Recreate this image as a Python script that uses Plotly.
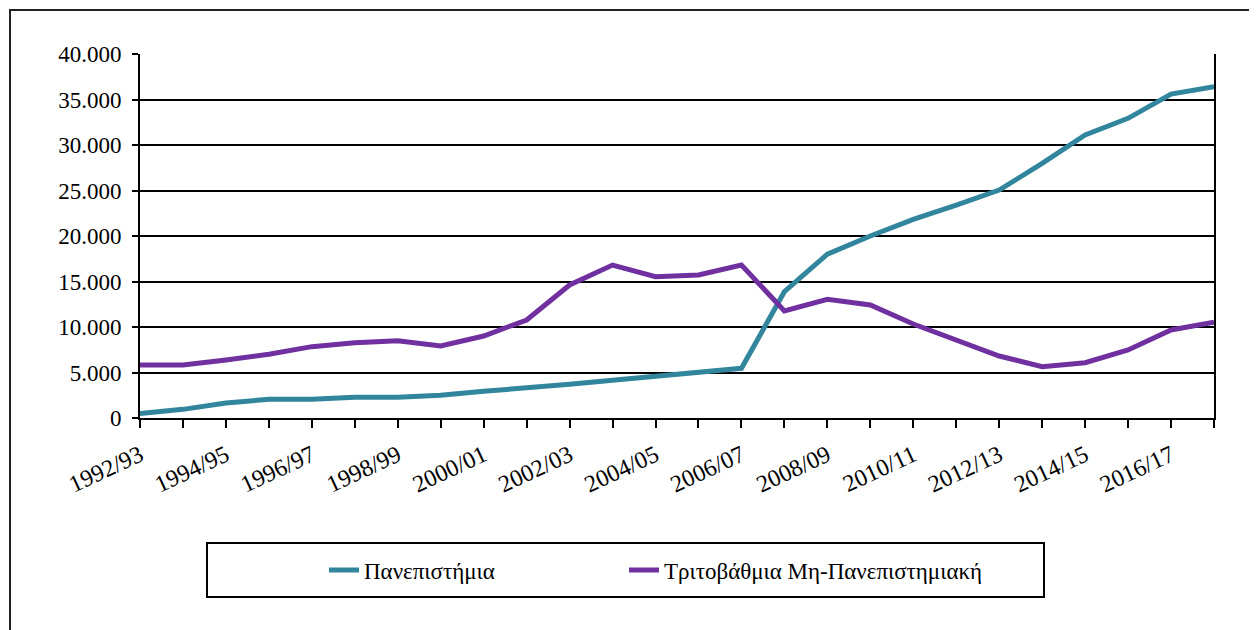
import plotly.graph_objects as go

years = [f"{y}/{str(y + 1)[2:]}" for y in range(1992, 2018)]

panepistimia = [500, 950, 1650, 2050, 2050, 2270, 2270, 2500, 2930, 3260,
                3700, 4140, 4600, 5090, 5460, 13880, 18000, 20000, 21830, 23400,
                25050, 27990, 31100, 32930, 35600, 36400]

mi_panepist = [5820, 5820, 6370, 7000, 7840, 8280, 8500, 7910, 9010, 10770,
               14620, 16810, 15530, 15710, 16810, 11760, 13040, 12420, 10330, 8570,
               6810, 5640, 6080, 7470, 9670, 10520]

name_a = "Πανεπιστήμια"
name_b = "Τριτοβάθμια Μη-Πανεπιστημιακή"

y_ticks = [0, 5000, 10000, 15000, 20000, 25000, 30000, 35000, 40000]
x_ticktext = [y if i % 2 == 0 else "" for i, y in enumerate(years)]

FONT = "Liberation Serif"
OFF = 8  # the page body keeps an 8px margin


def px_x(px):
    return (px - 140) / 1074


def px_y(py):
    return (418 - py) / 364


fig = go.Figure()
fig.add_trace(go.Scatter(x=years, y=panepistimia, mode="lines", name=name_a,
                         line=dict(color="#31859C", width=5), legend="legend"))
fig.add_trace(go.Scatter(x=years, y=mi_panepist, mode="lines", name=name_b,
                         line=dict(color="#7030A0", width=5), legend="legend2"))

leg_common = dict(
    orientation="h",
    xanchor="left",
    yanchor="middle",
    y=px_y(570),
    font=dict(family=FONT, size=23, color="black"),
    bgcolor="rgba(0,0,0,0)",
)

fig.update_layout(
    width=1257 - OFF,
    height=630 - OFF,
    margin=dict(l=140 - OFF, r=43, t=54 - OFF, b=212),
    paper_bgcolor="white",
    plot_bgcolor="white",
    separators=",.",
    font=dict(family=FONT, size=21, color="black"),
    showlegend=True,
    legend=dict(x=px_x(324), **leg_common),
    legend2=dict(x=px_x(624), **leg_common),
    shapes=[
        dict(type="rect", xref="paper", yref="paper",
             x0=px_x(10), x1=px_x(1275), y0=px_y(650), y1=px_y(10),
             line=dict(color="#222", width=2), layer="below"),
        dict(type="rect", xref="paper", yref="paper",
             x0=px_x(207), x1=px_x(1044), y0=px_y(597), y1=px_y(543),
             line=dict(color="black", width=2)),
    ],
)

fig.update_xaxes(
    type="category",
    range=[0, len(years) - 1],
    tickmode="array",
    tickvals=years,
    ticktext=x_ticktext,
    tickangle=-25,
    ticks="outside",
    ticklen=8,
    tickwidth=1.5,
    tickcolor="black",
    showline=True,
    linecolor="black",
    linewidth=2,
    showgrid=False,
    ticklabelstandoff=4,
    tickfont=dict(family=FONT, size=24, color="black"),
)

fig.update_yaxes(
    range=[0, 40000],
    tickvals=y_ticks,
    tickformat=",d",
    ticks="outside",
    ticklen=6,
    tickwidth=1.5,
    tickcolor="black",
    showline=True,
    mirror=True,
    linecolor="black",
    linewidth=2,
    showgrid=True,
    gridcolor="black",
    gridwidth=2,
    zeroline=False,
    ticklabelstandoff=6,
    tickfont=dict(family=FONT, size=23, color="black"),
)

fig.write_html("out.html")
